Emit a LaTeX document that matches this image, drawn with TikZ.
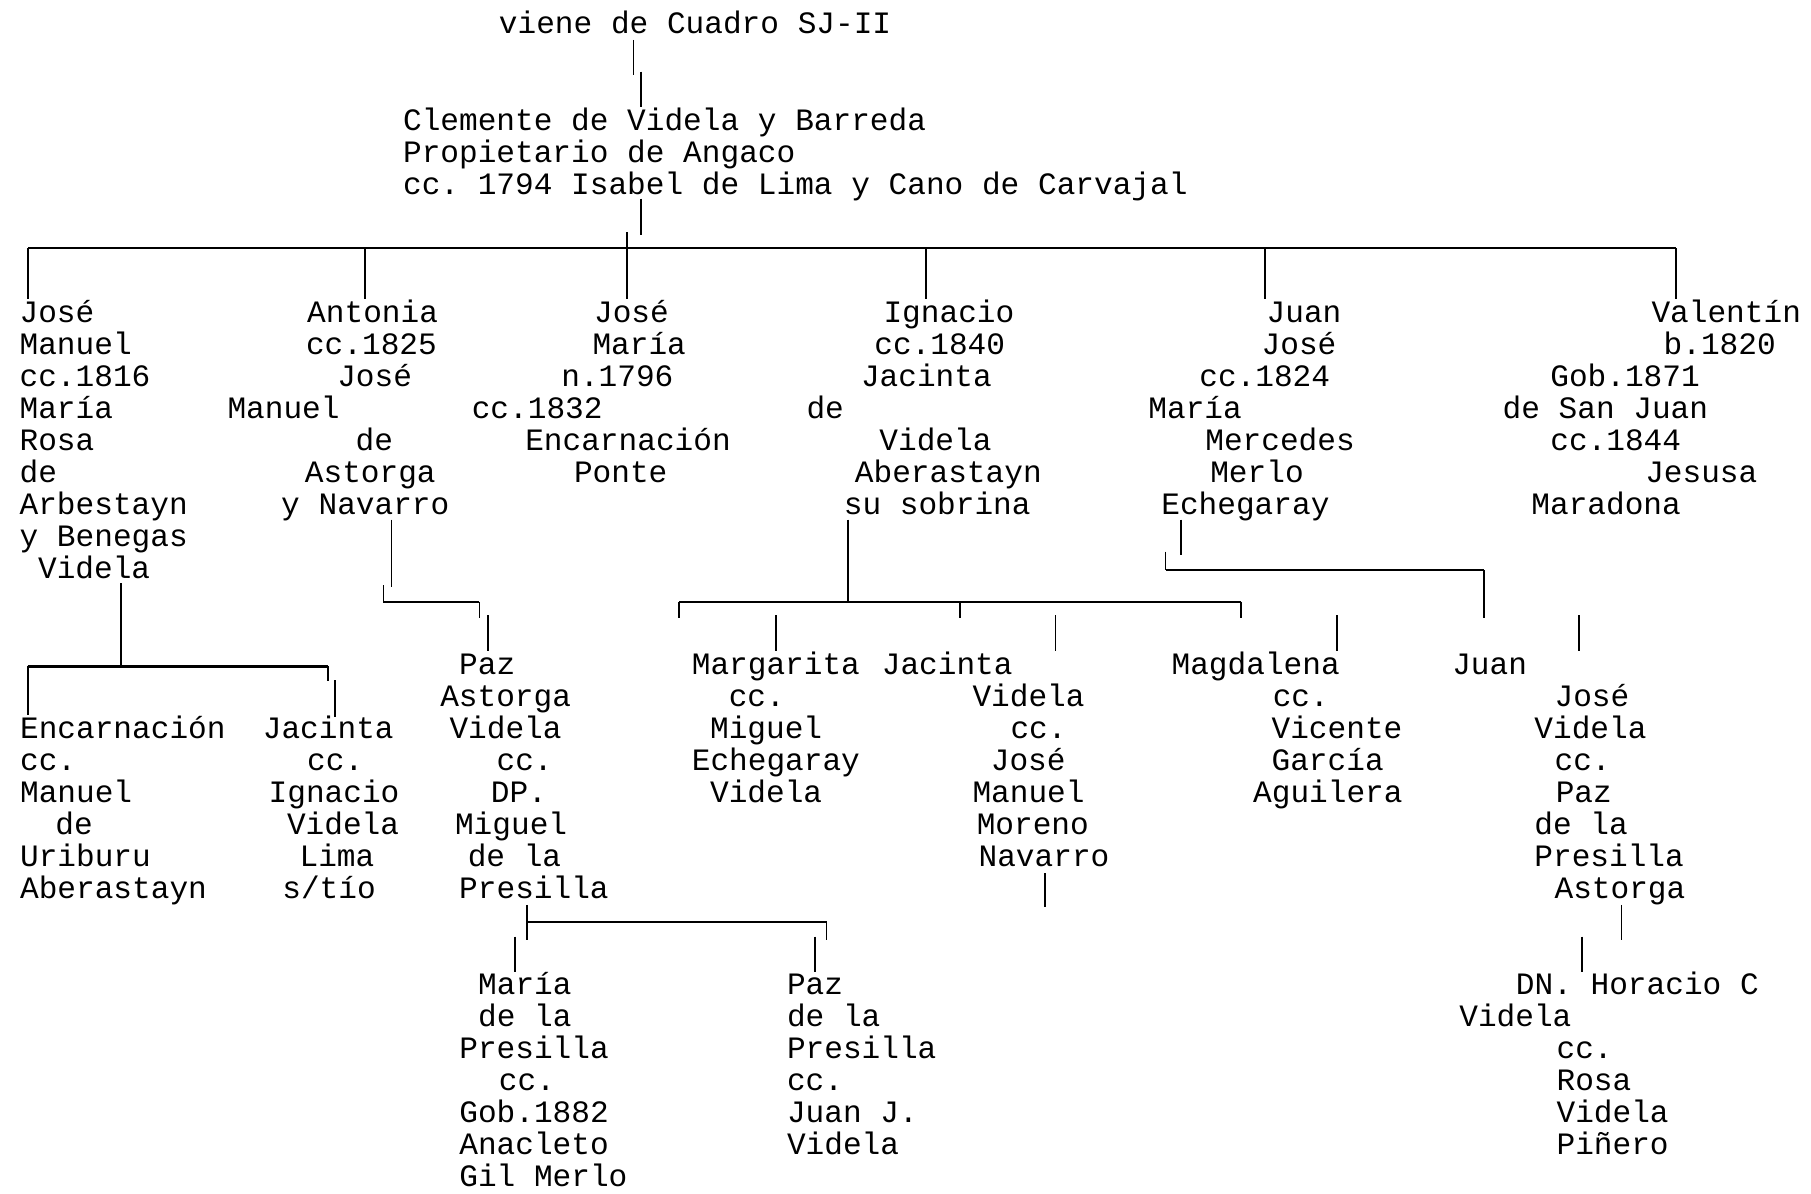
\documentclass[tikz,border=0pt]{standalone}
\usepackage{fontspec}
\setmainfont{Liberation Mono}
\frenchspacing
\tikzset{
  txt/.style={anchor=base west, inner sep=0pt, outer sep=0pt, font=\fontsize{26.95}{27.72}\selectfont\frenchspacing},
  vl/.style={line width=1.4pt, black},
  hl/.style={line width=2pt, black}
}
\newcommand\tl[4]{\node[txt] (#1) at (#2,{29.4+27.72*#3}) {#4};}
\newcommand\vseg[4]{\coordinate (#1t) at (#2,#3); \coordinate (#1b) at (#2,#4); \draw[vl] (#1t) -- (#1b);}
\newcommand\hseg[4]{\coordinate (#1l) at (#3,#2); \coordinate (#1r) at (#4,#2); \draw[hl] (#1l) -- (#1r);}
\begin{document}
\begin{tikzpicture}[x=1pt,y=-1pt]
\fill[white] (0,0) rectangle (1568,1033);
\useasboundingbox (0,0) rectangle (1568,1033);
% --- top
\tl{viene}{432}{0}{viene de Cuadro SJ-II}
\tl{cl1}{349}{3}{Clemente de Videla y Barreda}
\tl{cl2}{349}{4}{Propietario de Angaco}
\tl{cl3}{349}{5}{cc. 1794 Isabel de Lima y Cano de Carvajal}
% --- generation 1
\tl{jm1}{17}{9}{José}
\tl{jm2}{17}{10}{Manuel}
\tl{jm3}{17}{11}{cc.1816}
\tl{jm4}{17}{12}{María}
\tl{jm5}{17}{13}{Rosa}
\tl{jm6}{17}{14}{de}
\tl{jm7}{17}{15}{Arbestayn}
\tl{jm8}{17}{16}{y Benegas}
\tl{jm9}{33}{17}{Videla}
\tl{an1}{266}{9}{Antonia}
\tl{an2}{265}{10}{cc.1825}
\tl{an3}{292}{11}{José}
\tl{an4}{197}{12}{Manuel}
\tl{an5}{308}{13}{de}
\tl{an6}{264}{14}{Astorga}
\tl{an7}{243.5}{15}{y Navarro}
\tl{jma1}{514.4}{9}{José}
\tl{jma2}{513}{10}{María}
\tl{jma3}{486}{11}{n.1796}
\tl{jma4}{408.5}{12}{cc.1832}
\tl{jma5}{454.8}{13}{Encarnación}
\tl{jma6}{497}{14}{Ponte}
\tl{ig1}{765}{9}{Ignacio}
\tl{ig2}{757}{10}{cc.1840}
\tl{ig3}{745.5}{11}{Jacinta}
\tl{ig4}{698.3}{12}{de}
\tl{ig5}{761.4}{13}{Videla}
\tl{ig6}{740.2}{14}{Aberastayn}
\tl{ig7}{730.6}{15}{su sobrina}
\tl{jj1}{1096.7}{9}{Juan}
\tl{jj2}{1092.4}{10}{José}
\tl{jj3}{1038.4}{11}{cc.1824}
\tl{jj4}{994.3}{12}{María}
\tl{jj5}{1043.6}{13}{Mercedes}
\tl{jj6}{1047.9}{14}{Merlo}
\tl{jj7}{1005.5}{15}{Echegaray}
\tl{va1}{1429.9}{9}{Valentín}
\tl{va2}{1440.4}{10}{b.1820}
\tl{va3}{1342.3}{11}{Gob.1871}
\tl{va4}{1301}{12}{de San Juan}
\tl{va5}{1342.3}{13}{cc.1844}
\tl{va6}{1424.5}{14}{Jesusa}
\tl{va7}{1325.9}{15}{Maradona}
% --- generation 2
\tl{en1}{17.4}{22}{Encarnación}
\tl{en2}{17.4}{23}{cc.}
\tl{en3}{17.4}{24}{Manuel}
\tl{en4}{48}{25}{de}
\tl{en5}{17.4}{26}{Uriburu}
\tl{en6}{17.4}{27}{Aberastayn}
\tl{ja1}{227.6}{22}{Jacinta}
\tl{ja2}{266}{23}{cc.}
\tl{ja3}{232.6}{24}{Ignacio}
\tl{ja4}{248.5}{25}{Videla}
\tl{ja5}{259.4}{26}{Lima}
\tl{ja6}{244.5}{27}{s/tío}
\tl{pz1}{397.6}{20}{Paz}
\tl{pz2}{381.2}{21}{Astorga}
\tl{pz3}{389.2}{22}{Videla}
\tl{pz4}{430}{23}{cc.}
\tl{pz5}{425}{24}{DP.}
\tl{pz6}{394}{25}{Miguel}
\tl{pz7}{405}{26}{de la}
\tl{pz8}{397.6}{27}{Presilla}
\tl{ma1}{599}{20}{Margarita}
\tl{ma2}{631}{21}{cc.}
\tl{ma3}{614.8}{22}{Miguel}
\tl{ma4}{599}{23}{Echegaray}
\tl{ma5}{614.8}{24}{Videla}
\tl{jb1}{763.5}{20}{Jacinta}
\tl{jb2}{842}{21}{Videla}
\tl{jb3}{874.9}{22}{cc.}
\tl{jb4}{857.9}{23}{José}
\tl{jb5}{842}{24}{Manuel}
\tl{jb6}{845.7}{25}{Moreno}
\tl{jb7}{847.3}{26}{Navarro}
\tl{mg1}{1014.4}{20}{Magdalena}
\tl{mg2}{1102}{21}{cc.}
\tl{mg3}{1101}{22}{Vicente}
\tl{mg4}{1101}{23}{García}
\tl{mg5}{1085}{24}{Aguilera}
\tl{ju1}{1257.4}{20}{Juan}
\tl{ju2}{1346}{21}{José}
\tl{ju3}{1328.5}{22}{Videla}
\tl{ju4}{1346}{23}{cc.}
\tl{ju5}{1347}{24}{Paz}
\tl{ju6}{1328.5}{25}{de la}
\tl{ju7}{1328.5}{26}{Presilla}
\tl{ju8}{1346}{27}{Astorga}
% --- generation 3
\tl{mp1}{414}{30}{María}
\tl{mp2}{414}{31}{de la}
\tl{mp3}{397.7}{32}{Presilla}
\tl{mp4}{432}{33}{cc.}
\tl{mp5}{397.7}{34}{Gob.1882}
\tl{mp6}{397.7}{35}{Anacleto}
\tl{mp7}{397.7}{36}{Gil Merlo}
\tl{pp1}{681.4}{30}{Paz}
\tl{pp2}{681.4}{31}{de la}
\tl{pp3}{681.4}{32}{Presilla}
\tl{pp4}{681.4}{33}{cc.}
\tl{pp5}{681.4}{34}{Juan J.}
\tl{pp6}{681.4}{35}{Videla}
\tl{dn1}{1312.5}{30}{DN. Horacio C}
\tl{dn2}{1263.5}{31}{Videla}
\tl{dn3}{1347.7}{32}{cc.}
\tl{dn4}{1347.7}{33}{Rosa}
\tl{dn5}{1347.7}{34}{Videla}
\tl{dn6}{1347.7}{35}{Piñero}
% --- connectors: top
\vseg{a}{548.6}{34.6}{65}
\vseg{b}{555}{62}{92.6}
\vseg{c}{555}{172}{203.5}
\vseg{d}{543}{201}{259}
\hseg{h1}{215}{24.5}{1451}
\vseg{e1}{24.5}{215}{259}
\vseg{e2}{316}{215}{259}
\vseg{e3}{802}{215}{259}
\vseg{e4}{1095}{215}{259}
\vseg{e5}{1451}{215}{259}
% José Manuel
\vseg{f1}{105}{505}{577}
\hseg{h2}{577}{24}{284}
\vseg{f2}{24}{577}{619}
\vseg{f3}{284}{577}{590}
\vseg{f4}{290}{589}{620.5}
% Antonia
\vseg{g1}{339}{450}{508}
\vseg{g2}{332}{506.5}{521}
\hseg{h3}{521}{332}{415}
\vseg{g3}{415}{521}{535}
\vseg{g4}{422.5}{532.5}{564}
% Ignacio
\vseg{i1}{734}{450}{521}
\hseg{h4}{521}{588}{1074.5}
\vseg{i2}{588}{521}{535}
\vseg{i3}{831.4}{521}{535}
\vseg{i4}{1074.5}{521}{535}
\vseg{i5}{672}{532.5}{564}
\vseg{i6}{913.7}{532.5}{564}
\vseg{i7}{1157.6}{532.5}{564}
% Juan José
\vseg{k1}{1022.4}{450}{480.5}
\vseg{k2}{1009.2}{477.6}{493.5}
\hseg{h5}{493.5}{1009.2}{1285}
\vseg{k3}{1285}{493.5}{535}
\vseg{k4}{1367.3}{532.5}{564}
% Jacinta (2)
\vseg{l1}{904.7}{756}{785}
% Paz
\vseg{m1}{456.2}{783.5}{813.9}
\hseg{h6}{798.5}{456.2}{715.7}
\vseg{m2}{715.7}{798.5}{813.9}
\vseg{m3}{446}{811}{841.3}
\vseg{m4}{705.5}{811}{841.3}
% Juan
\vseg{n1}{1403.8}{783.5}{813.9}
\vseg{n2}{1369.5}{811}{841.3}
\end{tikzpicture}
\end{document}
